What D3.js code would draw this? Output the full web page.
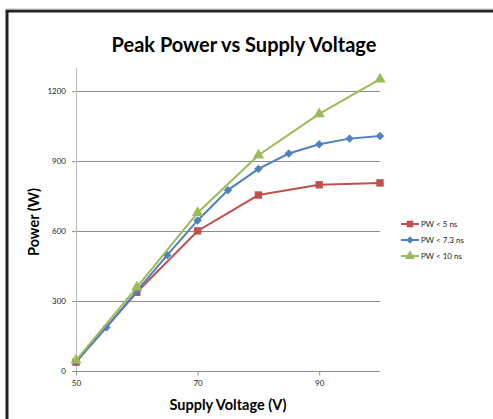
<!DOCTYPE html>
<html><head><meta charset="utf-8">
<script src="https://cdn.jsdelivr.net/npm/d3@7"></script>
<style>html,body{margin:0;padding:0;background:#fff;}svg{display:block;}</style>
</head><body>
<svg id="c" width="493" height="419"></svg>
<script>
const xTicks = [50, 70, 90];
const yTicks = [0, 300, 600, 900, 1200];
const seriesNames = ["PW < 5 ns", "PW < 7.3 ns", "PW < 10 ns"];
const redX = [50, 60, 70, 80, 90, 100];
const redY = [38, 338, 601, 755, 799, 807];
const blueX = [50, 55, 60, 65, 70, 75, 80, 85, 90, 95, 100];
const blueY = [40, 187, 343, 497, 646, 776, 867, 933, 973, 997, 1008];
const greenX = [50, 60, 70, 80, 90, 100];
const greenY = [46, 359, 679, 926, 1103, 1252];
const colors = ["#C0504D", "#4F81BD", "#9BBB59"];

const svg = d3.select("#c");
const font = "Lato, 'Open Sans', sans-serif";

// frame
svg.append("path").attr("d", "M7,419 V11 H493").attr("fill", "none").attr("stroke", "#222").attr("stroke-width", 3);
svg.append("line").attr("x1", 6).attr("x2", 493).attr("y1", 9).attr("y2", 9).attr("stroke", "#bbb").attr("stroke-width", 1);

const x = d3.scaleLinear().domain([50, 100]).range([76, 380]);
const y = d3.scaleLinear().domain([0, 1300]).range([371, 68]);

// gridlines
svg.append("g").selectAll("line").data(yTicks.filter(d => d > 0)).join("line")
  .attr("x1", x(50)).attr("x2", x(100)).attr("y1", d => Math.round(y(d)) + 0.5).attr("y2", d => Math.round(y(d)) + 0.5)
  .attr("stroke", "#8c8c8c").attr("stroke-width", 1);

// axes
const yAxis = d3.axisLeft(y).tickValues(yTicks).tickFormat(d3.format("d")).tickSize(4).tickPadding(6);
const gy = svg.append("g").attr("transform", `translate(${x(50)},0)`).call(yAxis);
gy.select(".domain").attr("stroke", "#bdbdbd").attr("d", `M0.5,${y(1300)}V${y(0)}`);
gy.selectAll(".tick line").attr("stroke", "#8c8c8c");
gy.selectAll("text").attr("font-family", font).attr("font-size", 8).attr("fill", "#222");

const xAxis = d3.axisBottom(x).tickValues(xTicks).tickFormat(d3.format("d")).tickSize(4).tickPadding(5);
const gx = svg.append("g").attr("transform", `translate(0,${Math.round(y(0)) + 0.5})`).call(xAxis);
gx.select(".domain").attr("stroke", "#8c8c8c").attr("d", `M${x(50)},0H${x(100)}`);
gx.selectAll(".tick line").attr("stroke", "#8c8c8c");
gx.selectAll("text").attr("font-family", font).attr("font-size", 8).attr("fill", "#222");

const series = [
  {xs: redX, ys: redY, c: colors[0], m: "square"},
  {xs: blueX, ys: blueY, c: colors[1], m: "diamond"},
  {xs: greenX, ys: greenY, c: colors[2], m: "triangle"}
];
const sym = {square: d3.symbolSquare, diamond: d3.symbolDiamond2, triangle: d3.symbolTriangle};
const size = {square: 55, diamond: 45, triangle: 55};
const line = d3.line().x(d => x(d[0])).y(d => y(d[1]));

series.forEach(s => {
  const pts = s.xs.map((v, i) => [v, s.ys[i]]);
  svg.append("path").datum(pts).attr("d", line).attr("fill", "none").attr("stroke", s.c).attr("stroke-width", 2);
  svg.append("g").selectAll("path").data(pts).join("path")
    .attr("transform", d => `translate(${x(d[0])},${y(d[1])})`)
    .attr("d", d3.symbol().type(sym[s.m]).size(size[s.m])).attr("fill", s.c);
});

// legend
const lg = svg.append("g");
series.forEach((s, i) => {
  const yy = 224 + i * 16;
  lg.append("line").attr("x1", 401).attr("x2", 419).attr("y1", yy).attr("y2", yy).attr("stroke", s.c).attr("stroke-width", 2);
  lg.append("path").attr("transform", `translate(410,${yy})`).attr("d", d3.symbol().type(sym[s.m]).size(size[s.m] * 0.8)).attr("fill", s.c);
  lg.append("text").attr("x", 421).attr("y", yy + 3).text(seriesNames[i])
    .attr("font-family", font).attr("font-size", 8).attr("fill", "#222");
});

// titles
svg.append("text").attr("x", 244).attr("y", 52).attr("text-anchor", "middle")
  .attr("font-family", font).attr("font-weight", "bold").attr("font-size", 20).attr("fill", "#000")
  .text("Peak Power vs Supply Voltage");
svg.append("text").attr("x", 228).attr("y", 410).attr("text-anchor", "middle")
  .attr("font-family", font).attr("font-weight", "bold").attr("font-size", 14.5).attr("fill", "#000")
  .text("Supply Voltage (V)");
svg.append("text").attr("transform", "translate(39,222) rotate(-90)").attr("text-anchor", "middle")
  .attr("font-family", font).attr("font-weight", "bold").attr("font-size", 14.5).attr("fill", "#000")
  .text("Power (W)");
</script>
</body></html>
